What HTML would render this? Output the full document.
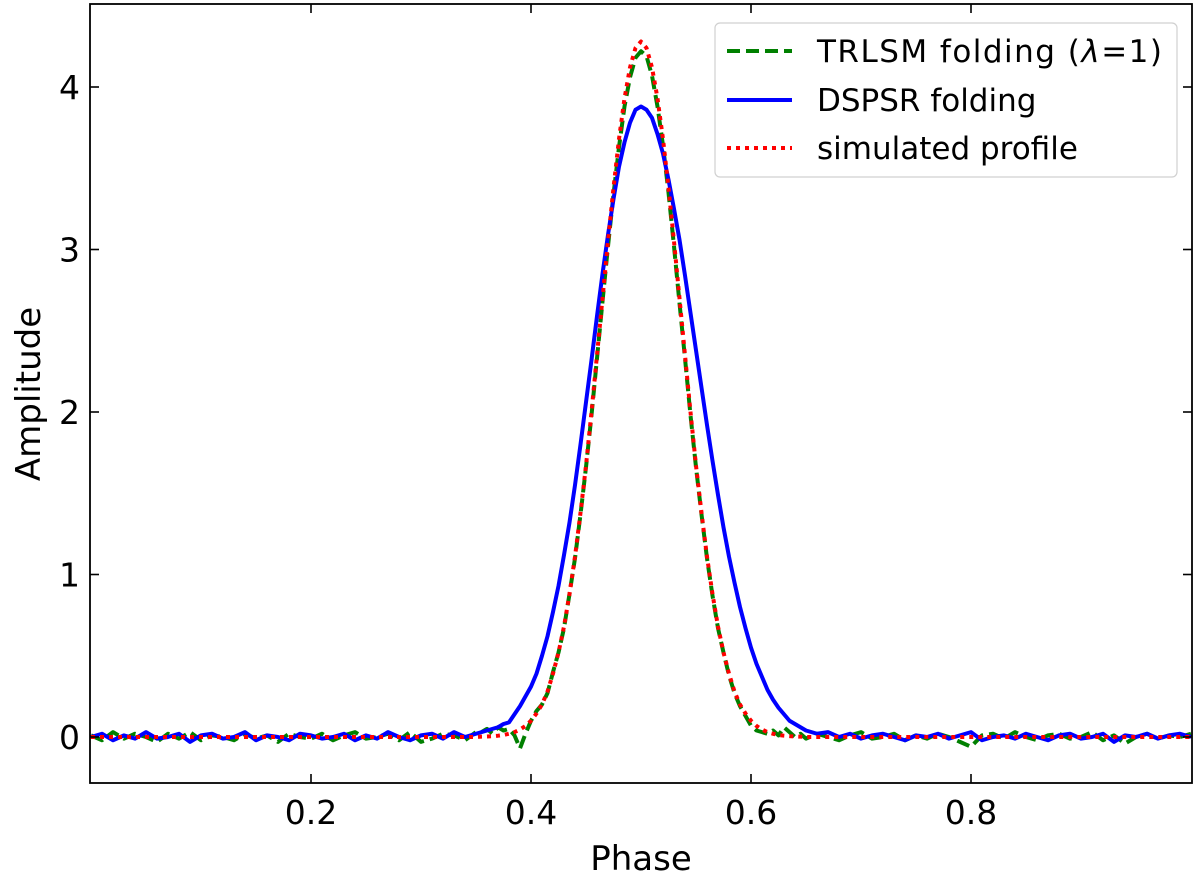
<!DOCTYPE html>
<html><head><meta charset="utf-8"><style>
body{margin:0;background:#fff;}
svg{display:block;font-family:"DejaVu Sans","Liberation Sans",sans-serif;}
</style></head><body>
<svg id="chart" width="1200" height="880">
<defs><clipPath id="clip"><rect x="90" y="4" width="1102" height="779"/></clipPath></defs>
<g id="series" clip-path="url(#clip)"></g>
<rect x="90" y="4" width="1102" height="779" fill="none" stroke="#000" stroke-width="1.8"/>
<g id="axes"></g>
<text x="641" y="870" font-size="34" text-anchor="middle">Phase</text>
<text transform="translate(40,394) rotate(-90)" font-size="34" text-anchor="middle">Amplitude</text>
<g>
<rect x="715" y="23" width="462" height="154" rx="5" fill="#fff" fill-opacity="0.8" stroke="#d0d0d0" stroke-width="1.2"/>
<line x1="727" y1="51" x2="792" y2="51" stroke="#008000" stroke-width="4" stroke-dasharray="13,6"/>
<text x="817" y="62" font-size="31" textLength="345">TRLSM folding (<tspan font-style="italic">λ</tspan>=1)</text>
<line x1="727" y1="100" x2="792" y2="100" stroke="#0000ff" stroke-width="4"/>
<text x="817" y="111" font-size="31">DSPSR folding</text>
<line x1="727" y1="148" x2="792" y2="148" stroke="#ff0000" stroke-width="4" stroke-dasharray="4,5"/>
<text x="817" y="159" font-size="31">simulated profile</text>
</g>
</svg>
<script>
const phase=[0.00,0.01,0.02,0.03,0.04,0.05,0.06,0.07,0.08,0.09,0.10,0.11,0.12,0.13,0.14,0.15,0.16,0.17,0.18,0.19,0.20,0.21,0.22,0.23,0.24,0.25,0.26,0.27,0.28,0.29,0.30,0.31,0.32,0.33,0.34,0.35,
0.355,0.36,0.365,0.37,0.375,0.38,0.385,0.39,0.395,0.40,0.405,0.41,0.415,0.42,0.425,0.43,0.435,0.44,0.445,0.45,0.455,0.46,0.465,0.47,0.475,0.48,0.485,0.49,0.495,0.50,0.505,0.51,0.515,0.52,0.525,0.53,0.535,0.54,0.545,0.55,0.555,0.56,0.565,0.57,0.575,0.58,0.585,0.59,0.595,0.60,0.605,0.61,0.615,0.62,0.625,0.63,0.635,0.64,0.645,
0.65,0.66,0.67,0.68,0.69,0.70,0.71,0.72,0.73,0.74,0.75,0.76,0.77,0.78,0.79,0.80,0.81,0.82,0.83,0.84,0.85,0.86,0.87,0.88,0.89,0.90,0.91,0.92,0.93,0.94,0.95,0.96,0.97,0.98,0.99,1.00];
const trlsm=[0.01,-0.02,0.03,-0.01,0.02,0.0,-0.03,0.02,-0.01,0.03,-0.02,0.01,0.0,-0.02,0.02,-0.01,0.01,-0.03,0.02,0.0,-0.01,0.02,-0.02,0.01,0.03,-0.01,0.0,0.02,-0.02,0.03,-0.03,-0.01,0.02,0.01,-0.02,0.03,
0.03,0.05,0.02,0.06,0.04,0.05,0.01,-0.07,0.02,0.10,0.16,0.20,0.27,0.40,0.52,0.67,0.88,1.10,1.37,1.66,1.98,2.33,2.68,3.02,3.34,3.63,3.88,4.06,4.18,4.22,4.19,4.07,3.88,3.64,3.35,3.02,2.67,2.33,1.98,1.66,1.37,1.10,0.87,0.67,0.52,0.38,0.27,0.19,0.13,0.07,0.04,0.03,0.02,0.04,0.01,0.06,0.03,0.0,0.02,
-0.01,0.02,0.0,-0.02,0.01,0.03,-0.01,0.0,0.02,-0.02,0.01,-0.01,0.02,0.0,-0.03,-0.06,0.01,0.02,-0.01,0.03,0.0,-0.02,0.01,0.02,-0.01,0.0,0.03,-0.02,0.01,-0.04,0.0,0.02,-0.01,0.01,0.0,0.02];
const dspsr=[0.0,0.02,-0.02,0.01,-0.01,0.03,-0.01,0.0,0.02,-0.03,0.01,0.02,-0.01,0.0,0.03,-0.02,0.01,0.0,-0.02,0.02,0.01,-0.01,0.0,0.02,-0.02,0.01,-0.01,0.03,0.0,-0.02,0.01,0.02,-0.01,0.03,0.0,0.02,
0.03,0.04,0.05,0.06,0.08,0.09,0.14,0.19,0.25,0.31,0.39,0.50,0.62,0.77,0.93,1.12,1.32,1.55,1.80,2.06,2.32,2.59,2.85,3.09,3.31,3.51,3.66,3.78,3.86,3.88,3.86,3.81,3.71,3.59,3.43,3.25,3.06,2.84,2.61,2.38,2.15,1.92,1.70,1.49,1.29,1.11,0.95,0.80,0.67,0.55,0.45,0.37,0.29,0.23,0.18,0.14,0.10,0.08,0.06,
0.04,0.02,0.03,0.0,0.02,-0.01,0.01,0.02,0.0,-0.02,0.01,0.0,0.02,-0.01,0.01,0.03,-0.02,0.0,0.01,-0.01,0.02,0.0,-0.02,0.01,0.02,-0.01,0.0,0.02,-0.03,0.01,0.0,0.02,-0.01,0.01,0.02,0.0];
const simulated=[0,0,0,0,0,0,0,0,0,0,0,0,0,0,0,0,0,0,0,0,0,0,0,0,0,0,0,0,0,0,0,0,0,0,0,0,
0.002,0.003,0.005,0.008,0.012,0.02,0.03,0.046,0.068,0.10,0.145,0.20,0.28,0.39,0.52,0.68,0.88,1.11,1.38,1.67,2.00,2.35,2.70,3.05,3.38,3.68,3.93,4.12,4.24,4.28,4.24,4.12,3.93,3.68,3.38,3.05,2.70,2.35,2.00,1.67,1.38,1.11,0.88,0.68,0.52,0.39,0.28,0.20,0.145,0.10,0.068,0.046,0.03,0.02,0.012,0.008,0.005,0.003,0.002,
0,0,0,0,0,0,0,0,0,0,0,0,0,0,0,0,0,0,0,0,0,0,0,0,0,0,0,0,0,0,0,0,0,0,0,0];
const xTicks=[0.2,0.4,0.6,0.8];
const xTickLabels=["0.2","0.4","0.6","0.8"];
const yTicks=[0,1,2,3,4];
const yTickLabels=["0","1","2","3","4"];

const NS="http://www.w3.org/2000/svg";
function xs(v){return 91+v*1100;}
function ys(v){return 737-v*162.5;}
const seriesG=document.getElementById('series');
const axesG=document.getElementById('axes');
function addLine(vals,color,dash,name){
  const p=document.createElementNS(NS,'path');
  let d='';
  for(let i=0;i<phase.length;i++){d+=(i?'L':'M')+xs(phase[i]).toFixed(2)+','+ys(vals[i]).toFixed(2);}
  p.setAttribute('d',d);
  p.setAttribute('fill','none');
  p.setAttribute('stroke',color);
  p.setAttribute('stroke-width','4');
  p.setAttribute('stroke-linejoin','round');
  if(dash)p.setAttribute('stroke-dasharray',dash);
  
  
  seriesG.appendChild(p);
}
addLine(trlsm,'#008000','13,6','trlsm-line');
addLine(dspsr,'#0000ff',null,'dspsr-line');
addLine(simulated,'#ff0000','4,5','simulated-line');

xTicks.forEach((t,i)=>{
  const x=xs(t);
  [[783,774],[4,13]].forEach(([a,b])=>{
    const l=document.createElementNS(NS,'line');
    l.setAttribute('x1',x);l.setAttribute('x2',x);l.setAttribute('y1',a);l.setAttribute('y2',b);
    l.setAttribute('stroke','#000');l.setAttribute('stroke-width','1.6');
    
    
    axesG.appendChild(l);
  });
  const tx=document.createElementNS(NS,'text');
  tx.setAttribute('x',x);tx.setAttribute('y',824);tx.setAttribute('font-size','33');tx.setAttribute('text-anchor','middle');
  tx.textContent=xTickLabels[i];
  
  
  axesG.appendChild(tx);
});
yTicks.forEach((t,i)=>{
  const y=ys(t);
  [[90,99],[1192,1183]].forEach(([a,b])=>{
    const l=document.createElementNS(NS,'line');
    l.setAttribute('x1',a);l.setAttribute('x2',b);l.setAttribute('y1',y);l.setAttribute('y2',y);
    l.setAttribute('stroke','#000');l.setAttribute('stroke-width','1.6');
    
    
    axesG.appendChild(l);
  });
  const tx=document.createElementNS(NS,'text');
  tx.setAttribute('x',80);tx.setAttribute('y',y+12);tx.setAttribute('font-size','33');tx.setAttribute('text-anchor','end');
  tx.textContent=yTickLabels[i];
  
  
  axesG.appendChild(tx);
});
</script>
</body></html>
